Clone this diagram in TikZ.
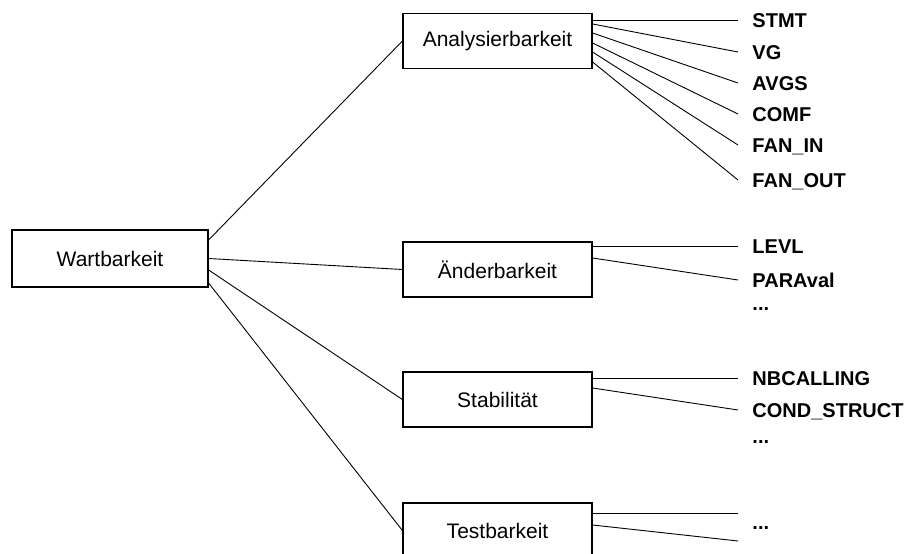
\documentclass[tikz,border=0pt]{standalone}
\usepackage{fontspec}
\setmainfont{Liberation Sans}
\usetikzlibrary{positioning}

\begin{document}
\begin{tikzpicture}[x=1pt,y=-1pt,line width=0.9pt,
  box/.style={draw,line width=1.2pt,minimum width=189pt,minimum height=55pt,inner sep=0pt,font=\fontsize{21}{25}\selectfont},
  leaf/.style={anchor=west,inner sep=0pt,text height=15pt,text depth=0pt,font=\fontsize{20}{24}\selectfont\bfseries}]
\useasboundingbox (0,0) rectangle (921,554);
%
\node[box,minimum width=196pt,minimum height=57pt] (w) at (110,258.5) {Wartbarkeit};
\node[box] (a) at (497.5,41) {Analysierbarkeit};
\node[box] (ae) at (497.5,269.5) {Änderbarkeit};
\node[box] (s) at (497.5,399.5) {Stabilität};
\node[box] (t) at (497.5,530.5) {Testbarkeit};
%
\node[leaf] (stmt) at (752,20) {STMT};
\node[leaf] (vg) at (752,52) {VG};
\node[leaf] (avgs) at (752,83) {AVGS};
\node[leaf] (comf) at (752,114) {COMF};
\node[leaf] (fanin) at (752,145) {FAN\_IN};
\node[leaf] (fanout) at (752,180) {FAN\_OUT};
\node[leaf] (levl) at (752,246) {LEVL};
\node[leaf] (para) at (752,280) {PARAval};
\node[leaf] (aedots) at (752,302.5) {...};
\node[leaf] (nbc) at (752,378) {NBCALLING};
\node[leaf] (cond) at (752,410) {COND\_STRUCT};
\node[leaf] (sdots) at (752,435.5) {...};
\node[leaf] (tdots) at (752,521.5) {...};
\coordinate (t1) at (738,513);
\coordinate (t2) at (738,541);
%
\draw ([yshift=18.5pt]w.east) -- (a.west);
\draw (w.east) -- (ae.west);
\draw ([yshift=-11.5pt]w.east) -- (s.west);
\draw ([yshift=-24.5pt]w.east) -- (t.west);
%
\foreach \dy/\m in {21/stmt,17/vg,8/avgs,-2/comf,-11/fanin,-21/fanout}
  \draw ([yshift=\dy pt]a.east) -- ([xshift=-14pt]\m.west);
\draw ([yshift=23.5pt]ae.east) -- ([xshift=-14pt]levl.west);
\draw ([yshift=11.5pt]ae.east) -- ([xshift=-14pt]para.west);
\draw ([yshift=21.5pt]s.east) -- ([xshift=-14pt]nbc.west);
\draw ([yshift=11.5pt]s.east) -- ([xshift=-14pt]cond.west);
\draw ([yshift=17.5pt]t.east) -- (t1);
\draw ([yshift=5.5pt]t.east) -- (t2);
\end{tikzpicture}
\end{document}
